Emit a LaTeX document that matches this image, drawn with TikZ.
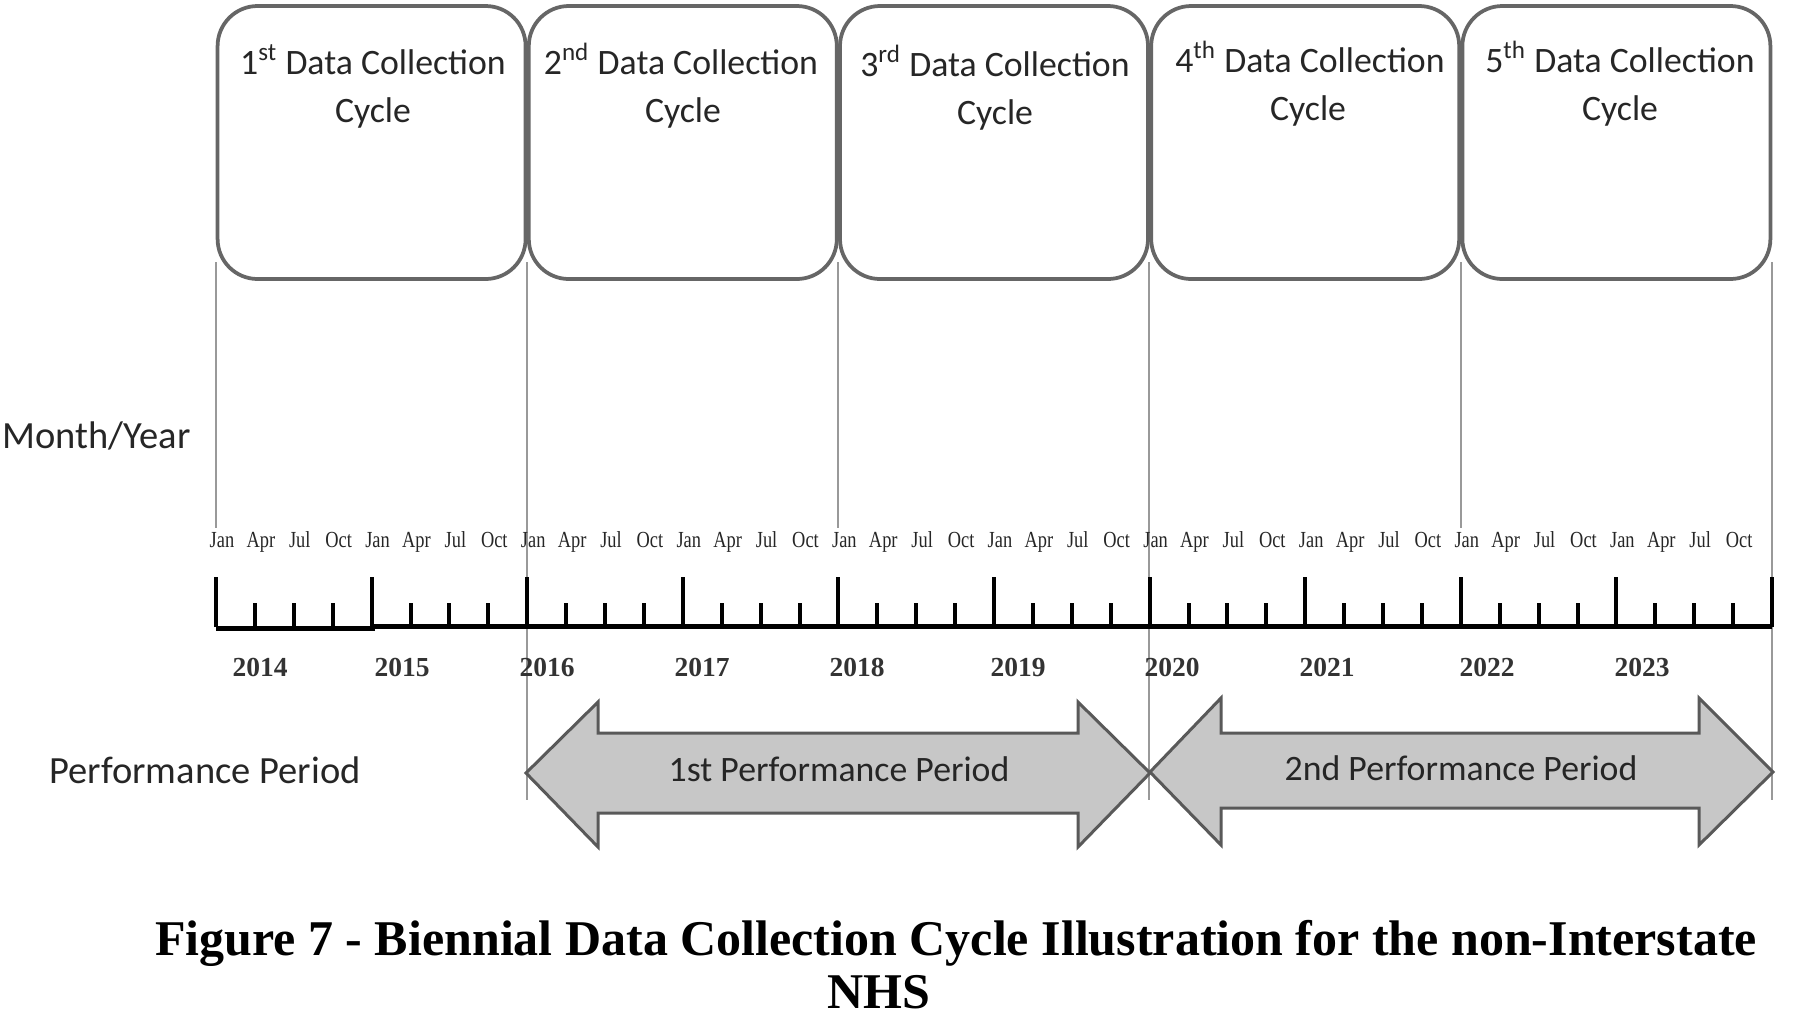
\documentclass[tikz,border=0pt]{standalone}
\usepackage{fontspec}
\setmainfont{Liberation Serif}
\newfontfamily\calfont{Carlito}
\newfontfamily\monthfont[FakeStretch=0.8]{Liberation Serif}
\begin{document}
\begin{tikzpicture}[x=0.4pt,y=-0.4pt,
  cyclebox/.style={draw=black!60, line width=1.5pt, rounded corners=16pt, fill=white,
    minimum width=123.2pt, minimum height=109.2pt, inner sep=0pt},
  boxtitle/.style={anchor=base, font=\calfont\fontsize{14.3pt}{16pt}\selectfont, text=black!85, inner sep=0pt},
  sidelbl/.style={anchor=base west, font=\calfont\fontsize{15.4pt}{17pt}\selectfont, text=black!85, inner sep=0pt},
  monthlbl/.style={anchor=base, font=\monthfont\fontsize{9.2pt}{10pt}\selectfont, text=black!85, inner sep=0pt},
  yearlbl/.style={anchor=base, font=\bfseries\fontsize{11pt}{12pt}\selectfont, text=black!80, inner sep=0pt},
  guide/.style={draw=black!40, line width=0.6pt},
  axisline/.style={draw=black, line width=2pt},
  tickline/.style={draw=black, line width=1.6pt},
  parrow/.style={draw=black!65, line width=1.2pt, fill=black!22, line join=miter},
  arrowlbl/.style={anchor=base, font=\calfont\fontsize{14.3pt}{16pt}\selectfont, text=black!85, inner sep=0pt},
  caption/.style={anchor=base, font=\bfseries\fontsize{20pt}{22pt}\selectfont, inner sep=0pt}]
\useasboundingbox (0,0) rectangle (1801,1016);

% guide lines
\coordinate (g0a) at (216,262); \coordinate (g0b) at (216,528);
\coordinate (g1a) at (527,262); \coordinate (g1b) at (527,800);
\coordinate (g2a) at (838,262); \coordinate (g2b) at (838,528);
\coordinate (g3a) at (1149,262); \coordinate (g3b) at (1149,800);
\coordinate (g4a) at (1461,262); \coordinate (g4b) at (1461,528);
\coordinate (g5a) at (1772,262); \coordinate (g5b) at (1772,800);
\foreach \g in {0,...,5} {\draw[guide] (g\g a) -- (g\g b);}

% cycle boxes
\node[cyclebox] (c1) at (371.6,142.5) {};
\node[cyclebox] (c2) at (682.8,142.5) {};
\node[cyclebox] (c3) at (994.0,142.5) {};
\node[cyclebox] (c4) at (1305.2,142.5) {};
\node[cyclebox] (c5) at (1616.4,142.5) {};

\node[boxtitle] (t1a) at (373,74) {1\textsuperscript{st} Data Collection};
\node[boxtitle] (t1b) at (373,122) {Cycle};
\node[boxtitle] (t2a) at (681,74) {2\textsuperscript{nd} Data Collection};
\node[boxtitle] (t2b) at (683,122) {Cycle};
\node[boxtitle] (t3a) at (995,76) {3\textsuperscript{rd} Data Collection};
\node[boxtitle] (t3b) at (995,124) {Cycle};
\node[boxtitle] (t4a) at (1310,72) {4\textsuperscript{th} Data Collection};
\node[boxtitle] (t4b) at (1308,120) {Cycle};
\node[boxtitle] (t5a) at (1620,72) {5\textsuperscript{th} Data Collection};
\node[boxtitle] (t5b) at (1620,120) {Cycle};

% side labels
\node[sidelbl] (my) at (2,448) {Month/Year};
\node[sidelbl] (pp) at (49,783) {Performance Period};

% month labels
\foreach \yr in {0,...,9} {
  \foreach \m [count=\k from 0] in {Jan,Apr,Jul,Oct} {
    \node[monthlbl] (m\yr\k) at ({216+155.6*\yr+38.9*\k+6},547) {\m};
  }
}

% timeline
\draw[axisline] (216,628) -- (372,628) -- (372,626) -- (1772,626);
\foreach \q in {0,...,40} {
  \pgfmathtruncatemacro{\r}{mod(\q,4)}
  \ifnum\r=0
    \draw[tickline] ({216+38.9*\q},627) -- ({216+38.9*\q},577);
  \else
    \draw[tickline] ({216+38.9*\q},627) -- ({216+38.9*\q},603);
  \fi
}

% year labels
\foreach \yr/\xx in {2014/260,2015/402,2016/547,2017/702,2018/857,2019/1018,2020/1172,2021/1327,2022/1487,2023/1642} {
  \node[yearlbl] (y\yr) at (\xx,676) {\yr};
}

% performance period arrows
\draw[parrow] (526,773) -- (598,702) -- (598,733) -- (1078,733) -- (1078,702) -- (1150,773)
  -- (1078,847) -- (1078,813) -- (598,813) -- (598,847) -- cycle;
\draw[parrow] (1150,772) -- (1221,698) -- (1221,733) -- (1699,733) -- (1699,698) -- (1773,772)
  -- (1699,845) -- (1699,808) -- (1221,808) -- (1221,845) -- cycle;
\node[arrowlbl] (p1) at (839,781) {1st Performance Period};
\node[arrowlbl] (p2) at (1461,780) {2nd Performance Period};

% caption
\node[caption] (cap1) at (956,955) {Figure 7 - Biennial Data Collection Cycle Illustration for the non-Interstate};
\node[caption] (cap2) at (879,1008) {NHS};
\end{tikzpicture}
\end{document}
